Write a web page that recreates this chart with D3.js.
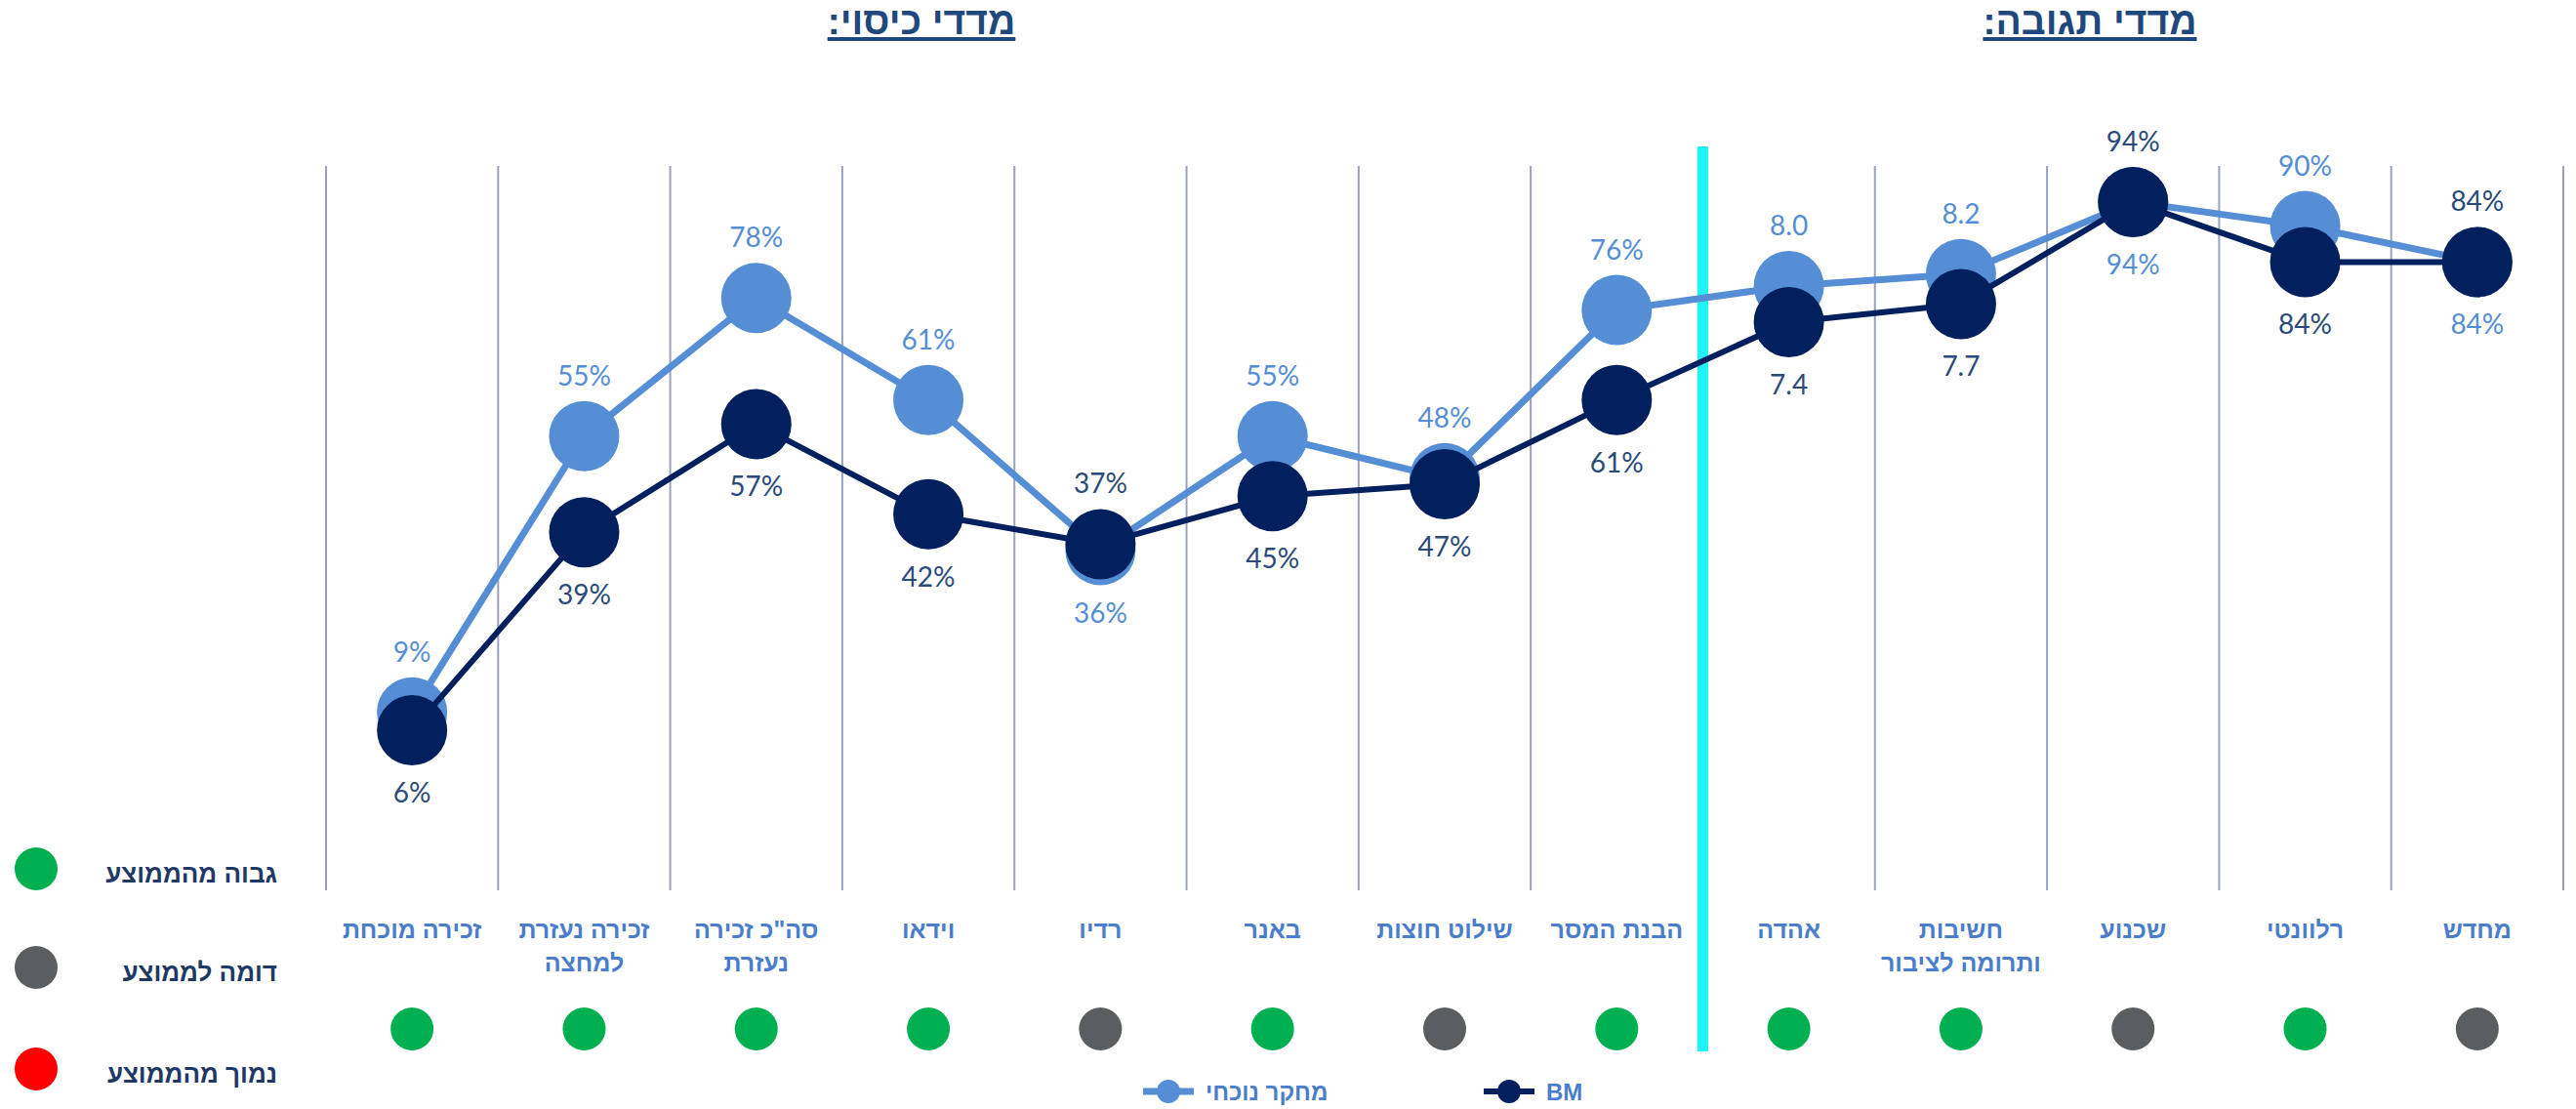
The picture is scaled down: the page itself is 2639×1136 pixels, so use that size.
<!DOCTYPE html>
<html>
<head>
<meta charset="utf-8">
<script src="https://cdn.jsdelivr.net/npm/d3@7"></script>
<style>
  html, body { margin: 0; padding: 0; background: #fff; }
  svg { display: block; }
</style>
</head>
<body>
<svg width="2639" height="1136"></svg>
<script>
// ---- data ----
var categories = ["זכירה מוכחת", "זכירה נעזרת\nלמחצה", "סה\"כ זכירה\nנעזרת", "וידאו", "רדיו", "באנר",
  "שילוט חוצות", "הבנת המסר", "אהדה", "חשיבות\nותרומה לציבור", "שכנוע", "רלוונטי", "מחדש"];
var currentStudy = [9, 55, 78, 61, 36, 55, 48, 76, 8.0, 8.2, 94, 90, 84];
var benchmark    = [6, 39, 57, 42, 37, 45, 47, 61, 7.4, 7.7, 94, 84, 84];
// "pct" = percent, "score" = score out of 10
var valueType = ["pct", "pct", "pct", "pct", "pct", "pct", "pct", "pct", "score", "score", "pct", "pct", "pct"];
var vsAverage = ["high", "high", "high", "high", "similar", "high", "similar", "high", "high", "high", "similar", "high", "similar"];
var averageKeys = ["high", "similar", "low"];
var averageNames = ["גבוה מהממוצע", "דומה לממוצע", "נמוך מהממוצע"];
var seriesNames = ["מחקר נוכחי", "BM"];
var sectionTitles = ["מדדי כיסוי:", "מדדי תגובה:"];

// ---- setup ----
var svg = d3.select("svg"),
  width = +svg.attr("width"),
  height = +svg.attr("height");

var hebFont = "'Liberation Sans', 'DejaVu Sans', Arial, sans-serif";
var numFont = "Lato, 'Open Sans', sans-serif";

var lightBlue = "#558ED5",
  navy = "#021F5E",
  labelNavy = "#2B4A7A",
  legendNavy = "#1F3864",
  catBlue = "#4A7DCB",
  titleBlue = "#1F497D";

var x = d3.scaleBand()
  .domain(categories)
  .range([334, 2626])
  .padding(0);

var y = d3.scaleLinear()
  .domain([-0.2, 1])
  .range([908, 170]);

var avgColor = d3.scaleOrdinal()
  .domain(averageKeys)
  .range(["#00B050", "#5B5E61", "#FF0000"]);

function plotVal(v, i) {
  return valueType[i] === "score" ? v / 10 : v / 100;
}
function fmt(v, i) {
  return valueType[i] === "score" ? d3.format(".1f")(v) : v + "%";
}
function cx(i) { return x(categories[i]) + x.bandwidth() / 2; }

// ---- grid ----
var bounds = d3.range(categories.length + 1).map(function(i) {
  return x.range()[0] + i * x.step();
});
svg.append("g")
  .attr("class", "grid")
  .selectAll("line")
  .data(bounds)
  .enter()
  .append("line")
  .attr("x1", function(d) { return d; })
  .attr("x2", function(d) { return d; })
  .attr("y1", 170)
  .attr("y2", 912)
  .attr("stroke", "#9AA2BC")
  .attr("stroke-width", 2);

// divider between coverage and response measures
svg.append("line")
  .attr("x1", bounds[8]).attr("x2", bounds[8])
  .attr("y1", 150).attr("y2", 1077)
  .attr("stroke", "#1EF4F7")
  .attr("stroke-width", 11);

// ---- titles ----
var titleX = [944, 2141];
sectionTitles.forEach(function(t, i) {
  var txt = svg.append("text")
    .attr("x", titleX[i])
    .attr("y", 35)
    .attr("direction", "rtl")
    .attr("text-anchor", "middle")
    .attr("font-family", hebFont)
    .attr("font-weight", "bold")
    .attr("font-size", 39)
    .attr("fill", titleBlue)
    .text(t);
  var bb = txt.node().getBBox();
  svg.append("rect")
    .attr("x", bb.x)
    .attr("y", 38)
    .attr("width", bb.width)
    .attr("height", 4)
    .attr("fill", titleBlue);
});

// ---- series ----
var line = d3.line()
  .x(function(d, i) { return cx(i); })
  .y(function(d, i) { return y(plotVal(d, i)); });

function drawSeries(vals, color, lw) {
  var g = svg.append("g");
  g.append("path")
    .datum(vals)
    .attr("d", line)
    .attr("fill", "none")
    .attr("stroke", color)
    .attr("stroke-width", lw)
    .attr("stroke-linejoin", "round");
  g.selectAll("circle")
    .data(vals)
    .enter()
    .append("circle")
    .attr("cx", function(d, i) { return cx(i); })
    .attr("cy", function(d, i) { return y(plotVal(d, i)); })
    .attr("r", 36)
    .attr("fill", color);
}
drawSeries(currentStudy, lightBlue, 7);
drawSeries(benchmark, navy, 6);

// data labels: the higher series labelled above, the other below
function drawLabels(vals, other, color, isBench) {
  svg.append("g")
    .selectAll("text")
    .data(vals)
    .enter()
    .append("text")
    .attr("x", function(d, i) { return cx(i); })
    .attr("y", function(d, i) {
      var above = isBench ? d >= other[i] : d > other[i];
      return y(plotVal(d, i)) + (above ? -62 : 64) + 10;
    })
    .attr("text-anchor", "middle")
    .attr("font-family", numFont)
    .attr("font-size", 28)
    .attr("fill", color)
    .text(function(d, i) { return fmt(d, i); });
}
drawLabels(currentStudy, benchmark, lightBlue, false);
drawLabels(benchmark, currentStudy, labelNavy, true);

// ---- category labels ----
svg.append("g")
  .selectAll("text")
  .data(categories)
  .enter()
  .append("text")
  .attr("x", function(d) { return x(d) + x.bandwidth() / 2; })
  .attr("y", 961)
  .attr("text-anchor", "middle")
  .attr("font-family", hebFont)
  .attr("font-weight", "bold")
  .attr("font-size", 25)
  .attr("fill", catBlue)
  .each(function(d) {
    var el = d3.select(this);
    d.split("\n").forEach(function(part, k) {
      el.append("tspan")
        .attr("x", el.attr("x"))
        .attr("dy", k === 0 ? 0 : 34)
        .text(part);
    });
  });

// ---- above / below average dots ----
svg.append("g")
  .selectAll("circle")
  .data(vsAverage)
  .enter()
  .append("circle")
  .attr("cx", function(d, i) { return cx(i); })
  .attr("cy", 1054)
  .attr("r", 22)
  .attr("fill", function(d) { return avgColor(d); });

// left legend
var legY = [890, 991, 1095];
var leg = svg.append("g");
averageKeys.forEach(function(k, i) {
  leg.append("circle")
    .attr("cx", 37)
    .attr("cy", legY[i])
    .attr("r", 22)
    .attr("fill", avgColor(k));
  leg.append("text")
    .attr("x", 284)
    .attr("y", legY[i] + 14)
    .attr("text-anchor", "end")
    .attr("font-family", hebFont)
    .attr("font-weight", "bold")
    .attr("font-size", 26)
    .attr("fill", legendNavy)
    .text(averageNames[i]);
});

// series legend
var seriesLeg = [
  { x: 1197, color: lightBlue, lw: 7 },
  { x: 1546, color: navy, lw: 6 }
];
seriesLeg.forEach(function(s, i) {
  svg.append("line")
    .attr("x1", s.x - 26).attr("x2", s.x + 26)
    .attr("y1", 1118).attr("y2", 1118)
    .attr("stroke", s.color)
    .attr("stroke-width", s.lw);
  svg.append("circle")
    .attr("cx", s.x).attr("cy", 1118)
    .attr("r", 12)
    .attr("fill", s.color);
  svg.append("text")
    .attr("x", s.x + 38)
    .attr("y", 1127)
    .attr("text-anchor", "start")
    .attr("font-family", hebFont)
    .attr("font-weight", "bold")
    .attr("font-size", 24)
    .attr("fill", catBlue)
    .text(seriesNames[i]);
});
</script>
</body>
</html>
